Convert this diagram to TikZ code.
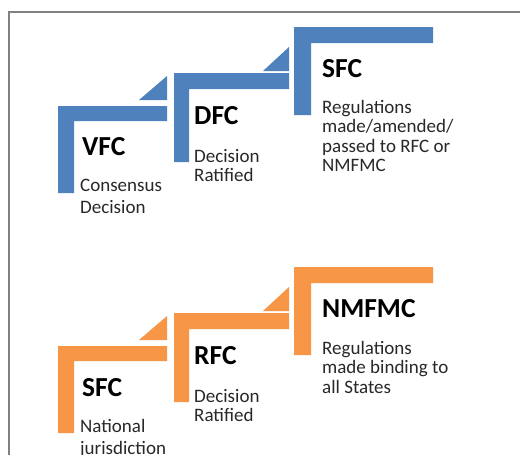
\documentclass[tikz,border=0pt]{standalone}
\usepackage{fontspec}
\setmainfont{Carlito}
\usetikzlibrary{positioning}
\definecolor{stepBlue}{RGB}{79, 129, 189}
\definecolor{stepOrange}{RGB}{247, 150, 70}
\definecolor{frameGray}{RGB}{128, 128, 128}
\definecolor{textDark}{RGB}{40, 40, 40}

\begin{document}
\begin{tikzpicture}[x=1pt, y=-1pt]
        \tikzstyle{title} = [anchor=base west, inner sep=0pt, font=\fontsize{27.5}{29}\selectfont\bfseries, text=black]
        \tikzstyle{desc} = [anchor=north west, inner sep=0pt, align=left, font=\fontsize{19}{19.5}\selectfont, text=textDark]

        \clip (0,0) rectangle (520,455);
        \fill[white] (0,0) rectangle (520,455);
        \draw[frameGray, line width=1.2pt] (9,455) -- (9,12) -- (520,12);

        % blue steps
        \fill[stepBlue] (58,106) -| (167,121) -| (74,193) -| cycle;
        \fill[stepBlue] (139,100) -- (167,100) -- (167,76) -- cycle;
        \fill[stepBlue] (174,73) -| (289,89) -| (189,162) -| cycle;
        \fill[stepBlue] (263,71) -- (289,71) -- (289,47) -- cycle;
        \fill[stepBlue] (294,27) -| (433,43) -| (311,115) -| cycle;

        % orange steps
        \fill[stepOrange] (58,346) -| (167,361) -| (74,433) -| cycle;
        \fill[stepOrange] (139,340) -- (167,340) -- (167,316) -- cycle;
        \fill[stepOrange] (174,313) -| (289,329) -| (189,402) -| cycle;
        \fill[stepOrange] (263,311) -- (289,311) -- (289,287) -- cycle;
        \fill[stepOrange] (294,267) -| (433,283) -| (311,355) -| cycle;

        \node[title] (vfc) at (82,155) {VFC};
        \node[desc, font=\fontsize{19}{21.5}\selectfont] (vfctext) at (80,179) {Consensus\\Decision};
        \node[title] (dfc) at (194,124) {DFC};
        \node[desc] (dfctext) at (194,149) {Decision\\Ratified};
        \node[title] (sfc) at (322,77) {SFC};
        \node[desc] (sfctext) at (322,100) {Regulations\\made/amended/\\passed to RFC or\\NMFMC};

        \node[title] (nsfc) at (82,396) {SFC};
        \node[desc, font=\fontsize{19}{22}\selectfont] (nsfctext) at (80,419) {National\\jurisdiction};
        \node[title] (rfc) at (194,364) {RFC};
        \node[desc] (rfctext) at (194,389) {Decision\\Ratified};
        \node[title] (nmfmc) at (322,317) {NMFMC};
        \node[desc] (nmfmctext) at (322,341) {Regulations\\made binding to\\all States};
    \end{tikzpicture}
\end{document}
